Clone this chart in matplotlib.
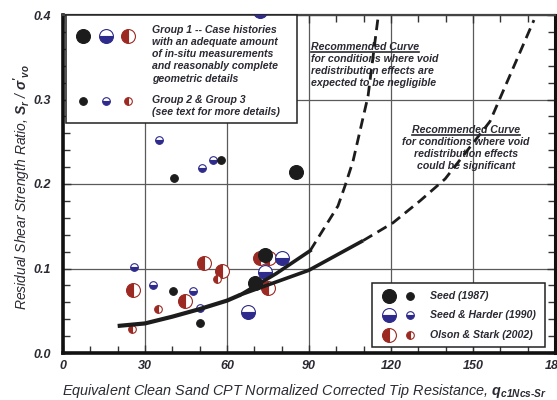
import matplotlib
matplotlib.use('Agg')
import matplotlib.pyplot as plt
from matplotlib.lines import Line2D
from matplotlib.patches import Rectangle
from matplotlib.ticker import MultipleLocator

plt.rcParams['font.family'] = ['Liberation Sans', 'DejaVu Sans']
plt.rcParams['font.weight'] = 'bold'
plt.rcParams['font.style'] = 'italic'
plt.rcParams['mathtext.fontset'] = 'custom'
plt.rcParams['mathtext.rm'] = 'Liberation Sans:bold:italic'
plt.rcParams['mathtext.it'] = 'Liberation Sans:bold:italic'
plt.rcParams['mathtext.bf'] = 'Liberation Sans:bold:italic'

BLACK = '#1c1c1c'
BLUE = '#2e2b8c'
RED = '#9c2a22'
TXT = '#2a2a33'

# case histories: Seed (1987)
seed_g1_x = [85.3, 73.9, 70.4]
seed_g1_y = [0.214, 0.116, 0.083]
seed_g2_x = [40.6, 57.8, 40.2, 50.1]
seed_g2_y = [0.207, 0.228, 0.073, 0.035]
# Seed & Harder (1990)
sh_g1_x = [67.7, 73.9, 80.3, 72.1]
sh_g1_y = [0.048, 0.096, 0.113, 0.405]
sh_g2_x = [35.1, 50.9, 54.9, 26.0, 32.9, 47.6, 50.1]
sh_g2_y = [0.252, 0.219, 0.228, 0.102, 0.080, 0.073, 0.053]
# Olson & Stark (2002)
os_g1_x = [25.6, 44.6, 51.6, 58.2, 72.1, 75.4, 75.0]
os_g1_y = [0.075, 0.062, 0.106, 0.097, 0.112, 0.112, 0.077]
os_g2_x = [25.2, 34.8, 56.4]
os_g2_y = [0.028, 0.052, 0.087]

# recommended curves
base_x = [20, 30, 40, 50, 60, 65]
base_y = [0.032, 0.035, 0.043, 0.052, 0.062, 0.069]
steep_solid_x = [65, 78, 90.4]
steep_solid_y = [0.069, 0.094, 0.121]
steep_dash_x = [90.4, 100.6, 103.2, 106.1, 111.6, 115.3]
steep_dash_y = [0.121, 0.174, 0.198, 0.227, 0.304, 0.398]
flat_solid_x = [65, 90, 109.8]
flat_solid_y = [0.069, 0.098, 0.133]
flat_dash_x = [109.8, 120.7, 130.6, 139.8, 156.2, 172.3]
flat_dash_y = [0.133, 0.154, 0.180, 0.206, 0.274, 0.394]

x_ticks = [0, 30, 60, 90, 120, 150, 180]
y_ticks = [0.0, 0.1, 0.2, 0.3, 0.4]


def mstyle(kind, big):
    ms = 10 if big else 5.5
    st = dict(marker='o', ls='none', ms=ms, mew=0.8)
    if kind == 'seed':
        st.update(mfc=BLACK, mec=BLACK)
    elif kind == 'sh':
        st.update(fillstyle='bottom', mfc=BLUE, markerfacecoloralt='white', mec=BLUE)
    else:
        st.update(fillstyle='left', mfc=RED, markerfacecoloralt='white', mec=RED)
    return st


fig = plt.figure(figsize=(5.57, 4.0), dpi=100)
ax = fig.add_axes([63 / 557, 47 / 400, 492 / 557, 338 / 400])

ax.plot(os_g1_x, os_g1_y, zorder=3, **mstyle('os', True))
ax.plot(os_g2_x, os_g2_y, zorder=3, **mstyle('os', False))
ax.plot(sh_g1_x[:3], sh_g1_y[:3], zorder=3, **mstyle('sh', True))
ax.plot(sh_g2_x, sh_g2_y, zorder=3, **mstyle('sh', False))
ax.plot(seed_g1_x, seed_g1_y, zorder=3, **mstyle('seed', True))
ax.plot(seed_g2_x, seed_g2_y, zorder=3, **mstyle('seed', False))
# the one sitting on the top edge goes above the legend box
ax.plot(sh_g1_x[3:], sh_g1_y[3:], zorder=8, **mstyle('sh', True))

ax.plot(base_x, base_y, color=BLACK, lw=3, solid_capstyle='butt', zorder=4)
ax.plot(steep_solid_x, steep_solid_y, color=BLACK, lw=2.6, zorder=4)
ax.plot(flat_solid_x, flat_solid_y, color=BLACK, lw=2.6, solid_capstyle='butt', zorder=4)
ax.plot(steep_dash_x, steep_dash_y, color=BLACK, lw=2, dashes=(3.8, 2.2), zorder=4)
ax.plot(flat_dash_x, flat_dash_y, color=BLACK, lw=2, dashes=(3.8, 2.2), zorder=4)

ax.set_xlim(0, 180)
ax.set_ylim(0, 0.4)
ax.set_xticks(x_ticks)
ax.set_yticks(y_ticks)
ax.set_yticklabels(['%.1f' % v for v in y_ticks])
ax.xaxis.set_minor_locator(MultipleLocator(10))
ax.yaxis.set_minor_locator(MultipleLocator(0.02))
ax.tick_params(which='both', direction='in', top=True, right=True,
               color='#333333', width=1, labelsize=9, labelcolor=TXT)
ax.tick_params(which='major', length=6)
ax.tick_params(which='minor', length=5)
ax.tick_params(axis='x', pad=5)
ax.tick_params(axis='y', pad=9)
ax.grid(which='major', color='#5a5a5a', lw=0.9)
ax.set_axisbelow(True)

for side, lw in [('left', 2.6), ('bottom', 2.6), ('right', 2.2), ('top', 1.6)]:
    ax.spines[side].set_linewidth(lw)
    ax.spines[side].set_color('#111111' if side != 'top' else '#444444')

ax.set_ylabel("Residual Shear Strength Ratio, $S_r$ / $\\sigma'_{vo}$",
              fontsize=10, color=TXT)
ax.yaxis.label.set_verticalalignment('center')
ax.yaxis.set_label_coords(-0.083, 0.49)
ax.set_xlabel("Equivalent Clean Sand CPT Normalized Corrected Tip Resistance, $q_{c1Ncs\\text{-}Sr}$",
              fontsize=10.4, color=TXT)
ax.xaxis.label.set_horizontalalignment('left')
ax.xaxis.label.set_verticalalignment('center')
ax.xaxis.set_label_coords(-0.002, -0.113)


def fx(px):
    return (px - 63) / 492


def fy(py):
    return (353 - py) / 338


T = ax.transAxes
# legend 1: groups
ax.add_patch(Rectangle((fx(66), fy(123)), fx(297) - fx(66), fy(15) - fy(123),
                       transform=T, fc='white', ec='#222222', lw=1.1, zorder=6, clip_on=False))
for k, px in zip(['seed', 'sh', 'os'], [83, 106, 128]):
    ax.plot([fx(px)], [fy(36)], transform=T, clip_on=False, zorder=7, **mstyle(k, True))
    ax.plot([fx(px)], [fy(101)], transform=T, clip_on=False, zorder=7, **mstyle(k, False))
ax.text(fx(152), fy(25), "Group 1 -- Case histories\nwith an adequate amount\nof in-situ measurements\n"
        "and reasonably complete\ngeometric details", transform=T, ha='left', va='top',
        fontsize=7.6, color=TXT, linespacing=1.27, zorder=7)
ax.text(fx(152), fy(95), "Group 2 & Group 3\n(see text for more details)", transform=T,
        ha='left', va='top', fontsize=7.6, color=TXT, linespacing=1.27, zorder=7)

# legend 2: sources
ax.add_patch(Rectangle((fx(372), fy(347)), fx(545) - fx(372), fy(283) - fy(347),
                       transform=T, fc='white', ec='#222222', lw=1.1, zorder=6, clip_on=False))
for k, py, lab in zip(['seed', 'sh', 'os'], [296, 315, 335],
                      ['Seed (1987)', 'Seed & Harder (1990)', 'Olson & Stark (2002)']):
    ax.plot([fx(389)], [fy(py)], transform=T, clip_on=False, zorder=7, **mstyle(k, True))
    ax.plot([fx(410)], [fy(py)], transform=T, clip_on=False, zorder=7, **mstyle(k, False))
    ax.text(fx(430), fy(py), lab, transform=T, ha='left', va='center', fontsize=7.6,
            color=TXT, zorder=7)

# curve notes
h1 = ax.text(fx(311), fy(47), "Recommended Curve", transform=T, ha='left', va='center',
             fontsize=7.6, color=TXT)
ax.text(fx(311), fy(54), "for conditions where void\nredistribution effects are\nexpected to be negligible",
        transform=T, ha='left', va='top', fontsize=7.6, color=TXT, linespacing=1.25)
h2 = ax.text(fx(466), fy(130), "Recommended Curve", transform=T, ha='center', va='center',
             fontsize=7.6, color=TXT)
ax.text(fx(466), fy(137), "for conditions where void\nredistribution effects\ncould be significant",
        transform=T, ha='center', va='top', fontsize=7.6, color=TXT, linespacing=1.25)

fig.canvas.draw()
for h in [h1, h2]:
    bb = h.get_window_extent()
    fig.add_artist(Line2D([bb.x0, bb.x1], [bb.y0 + 0.5, bb.y0 + 0.5], transform=None,
                          color=TXT, lw=1.2))

fig.savefig('out.png', dpi=100)
